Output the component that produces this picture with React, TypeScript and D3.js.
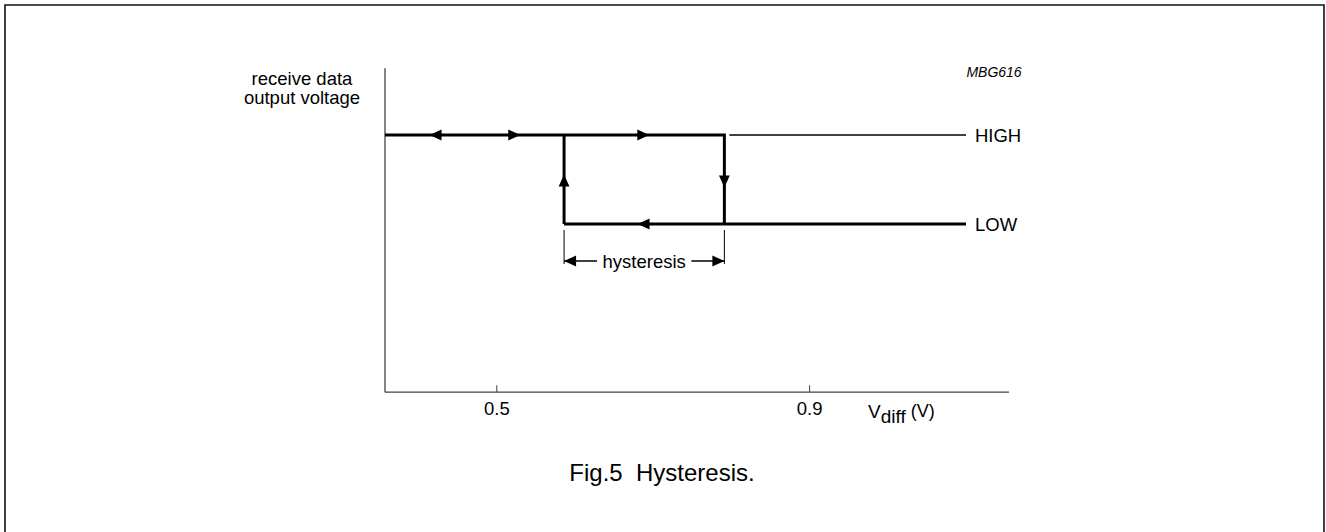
import React from 'react';
import * as d3 from 'd3';

// thresholds / axis values (volts)
const xDomain = [0.357, 1.155];
const xTicks = [0.5, 0.9];
const switchUp = 0.586;   // LOW -> HIGH
const switchDown = 0.791; // HIGH -> LOW
const lineEnd = 1.1;      // end of HIGH / LOW reference lines
const levels = [
  { name: 'HIGH', value: 1 },
  { name: 'LOW', value: 0 },
];
const yDomain = [-1.89, 1.75];

// arrow heads along the loop: position (V) and direction
const arrowsHigh = [
  { x: 0.414, dir: 'left' },
  { x: 0.53, dir: 'right' },
  { x: 0.695, dir: 'right' },
];
const arrowsLow = [{ x: 0.68, dir: 'left' }];

const FONT = 'Liberation Sans, Arial, Helvetica, sans-serif';

const W = 1326, H = 532;

function Arrow({ x, y, dir, size = 12 }: { x: number; y: number; dir: string; size?: number }) {
  const h = size * 0.45;
  let pts = '';
  if (dir === 'right') pts = `${x},${y} ${x - size},${y - h} ${x - size},${y + h}`;
  if (dir === 'left') pts = `${x},${y} ${x + size},${y - h} ${x + size},${y + h}`;
  if (dir === 'up') pts = `${x},${y} ${x - h},${y + size} ${x + h},${y + size}`;
  if (dir === 'down') pts = `${x},${y} ${x - h},${y - size} ${x + h},${y - size}`;
  return <polygon points={pts} fill="#000" />;
}

export default function App() {
  const x = d3.scaleLinear().domain(xDomain).range([385, 1009]);
  const y = d3.scaleLinear().domain([0, 1]).range([224, 135]);
  const yTop = y(yDomain[1]);
  const yAxis = y(yDomain[0]);
  const xL = x(xDomain[0]);
  const xR = x(xDomain[1]);

  const yHigh = y(1), yLow = y(0);
  const xUp = x(switchUp), xDown = x(switchDown);
  const yMid = (yHigh + yLow) / 2;

  // thick hysteresis loop path
  const loop = d3.path();
  loop.moveTo(xL, yHigh);
  loop.lineTo(xDown, yHigh);
  loop.lineTo(xDown, yLow);
  loop.moveTo(xUp, yLow);
  loop.lineTo(x(lineEnd), yLow);
  loop.moveTo(xUp, yLow);
  loop.lineTo(xUp, yHigh);

  const dimY = 261;

  return (
    <svg width={W} height={H} style={{ position: 'absolute', left: 0, top: 0, background: '#fff' }}>
      {/* frame */}
      <path d={`M5,${H + 5} V5 H1324 V${H + 5}`} fill="none" stroke="#111" strokeWidth={1.6} />

      {/* axes */}
      <line x1={xL} x2={xL} y1={yTop} y2={yAxis} stroke="#444" strokeWidth={1.3} />
      <line x1={xL} x2={xR} y1={yAxis} y2={yAxis} stroke="#444" strokeWidth={1.3} />
      {xTicks.map((t) => (
        <g key={t}>
          <line x1={x(t)} x2={x(t)} y1={yAxis} y2={yAxis - 7} stroke="#444" strokeWidth={1} />
          <text x={x(t)} y={yAxis + 23} textAnchor="middle" fontFamily={FONT} fontSize={18.5}>
            {t.toFixed(1)}
          </text>
        </g>
      ))}
      <text x={868} y={yAxis + 26} fontFamily={FONT} fontSize={19}>
        V<tspan dy={5}>diff</tspan>
        <tspan dy={-6} fontSize={18}> (V)</tspan>
      </text>

      {/* y label */}
      <text x={302} y={85} textAnchor="middle" fontFamily={FONT} fontSize={18.5}>receive data</text>
      <text x={302} y={104} textAnchor="middle" fontFamily={FONT} fontSize={18.5}>output voltage</text>

      <text x={994} y={77} textAnchor="middle" fontFamily={FONT} fontSize={14} fontStyle="italic">MBG616</text>

      {/* thin HIGH reference */}
      <line x1={xDown + 5} x2={x(lineEnd)} y1={yHigh} y2={yHigh} stroke="#000" strokeWidth={1.3} />

      <path d={loop.toString()} fill="none" stroke="#000" strokeWidth={3} />

      {arrowsHigh.map((a, i) => (
        <Arrow key={'h' + i} x={x(a.x)} y={yHigh} dir={a.dir} />
      ))}
      {arrowsLow.map((a, i) => (
        <Arrow key={'l' + i} x={x(a.x)} y={yLow} dir={a.dir} />
      ))}
      <Arrow x={xUp} y={yMid - 5} dir="up" />
      <Arrow x={xDown} y={yMid + 8} dir="down" />

      {levels.map((l) => (
        <text key={l.name} x={x(lineEnd) + 9} y={y(l.value) + 7} fontFamily={FONT} fontSize={18.5}>
          {l.name}
        </text>
      ))}

      {/* hysteresis dimension */}
      <line x1={xUp} x2={xUp} y1={yLow + 6} y2={dimY + 3} stroke="#000" strokeWidth={1} />
      <line x1={xDown} x2={xDown} y1={yLow + 6} y2={dimY + 3} stroke="#000" strokeWidth={1} />
      <line x1={xUp} x2={xUp + 33} y1={dimY} y2={dimY} stroke="#000" strokeWidth={1.3} />
      <line x1={xDown - 33} x2={xDown} y1={dimY} y2={dimY} stroke="#000" strokeWidth={1.3} />
      <Arrow x={xUp} y={dimY} dir="left" size={12} />
      <Arrow x={xDown} y={dimY} dir="right" size={12} />
      <text x={(xUp + xDown) / 2} y={dimY + 7} textAnchor="middle" fontFamily={FONT} fontSize={18.5}>
        hysteresis
      </text>

      <text x={662} y={481} textAnchor="middle" fontFamily={FONT} fontSize={24}>
        Fig.5{'\u00a0\u00a0'}Hysteresis.
      </text>
    </svg>
  );
}
